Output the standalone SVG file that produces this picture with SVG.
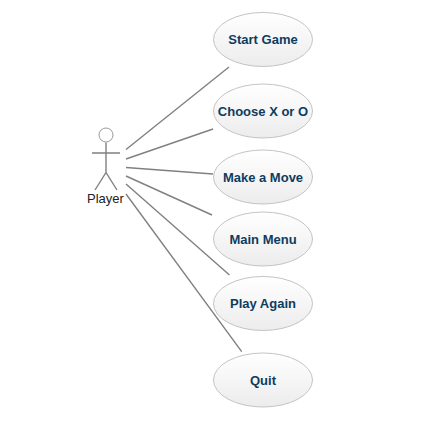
<svg xmlns="http://www.w3.org/2000/svg" width="424" height="425" viewBox="0 0 424 425">
<style>
.uc{fill:url(#g);stroke:#c4c4c4;stroke-width:1}
.ut{font:bold 13px "Liberation Sans",Arial,sans-serif;fill:#0e3c5f;text-anchor:middle}
.c{stroke:#808080;stroke-width:1.4;fill:none}
.a{stroke:#808080;stroke-width:1.4;fill:none}
</style>
<defs><linearGradient id="g" x1="0" y1="0" x2="0" y2="1"><stop offset="0" stop-color="#fff"/><stop offset="1" stop-color="#ececec"/></linearGradient></defs>
<rect width="424" height="425" fill="#fff"/>
<g id="connectors">
<path class="c" d="M126 149.500L229 67"/>
<path class="c" d="M126 159L213 129"/>
<path class="c" d="M126 167.500L213 174"/>
<path class="c" d="M126 176L212 215"/>
<path class="c" d="M126 184L229.500 275"/>
<path class="c" d="M126 194L241.700 351.700"/>
</g>
<g id="actor-player">
<circle cx="106" cy="135" r="7" fill="#fff" stroke="#999" stroke-width="1"/>
<path class="a" d="M106 142.500V172.500M92 153H120M95 190L106 172.500L117 190"/>
<text x="105.500" y="203" font-family="Liberation Sans,Arial,sans-serif" font-size="13" fill="#222" text-anchor="middle">Player</text>
</g>
<g id="start-game"><ellipse class="uc" cx="263" cy="39.500" rx="49.500" ry="27"/><text class="ut" x="263" y="44">Start Game</text></g>
<g id="choose"><ellipse class="uc" cx="263" cy="111" rx="49.500" ry="27"/><text class="ut" x="263" y="116">Choose X or O</text></g>
<g id="make-move"><ellipse class="uc" cx="263" cy="177" rx="49.500" ry="27"/><text class="ut" x="263" y="182">Make a Move</text></g>
<g id="main-menu"><ellipse class="uc" cx="263" cy="239" rx="49.500" ry="27"/><text class="ut" x="263" y="244">Main Menu</text></g>
<g id="play-again"><ellipse class="uc" cx="263" cy="303.500" rx="49.500" ry="27"/><text class="ut" x="263" y="308">Play Again</text></g>
<g id="quit"><ellipse class="uc" cx="263" cy="380" rx="49.500" ry="27"/><text class="ut" x="263" y="385">Quit</text></g>
</svg>
